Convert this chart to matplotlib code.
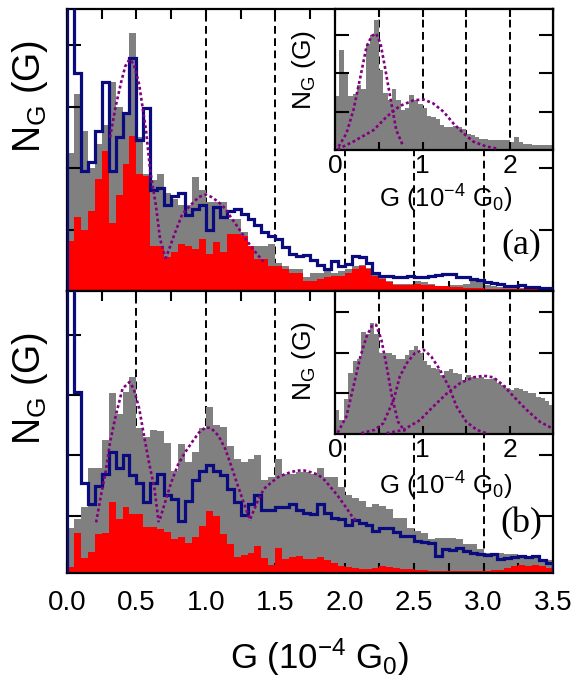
import numpy as np
import matplotlib
matplotlib.use("Agg")
import matplotlib.pyplot as plt
from matplotlib.ticker import MultipleLocator

plt.rcParams['font.family'] = ['Liberation Sans', 'DejaVu Sans']
plt.rcParams['mathtext.fontset'] = 'custom'
plt.rcParams['mathtext.rm'] = 'Liberation Sans'
plt.rcParams['mathtext.default'] = 'regular'

# histogram bins (10^-4 G0)
bin_w = 0.05
edges = np.arange(71) * bin_w
ins_edges = np.arange(51) * bin_w

# ---- panel (a) ----
gray_a = [2.24, 3.2, 2.6, 2.0, 2.4, 2.7, 3.4, 3.0, 2.9, 4.2,
          2.5, 1.9, 1.8, 1.9, 1.6, 1.5, 1.4, 1.4, 1.85, 1.65,
          1.45, 1.45, 1.45, 1.17, 1.17, 0.96, 0.74, 0.74, 0.74, 0.77,
          0.46, 0.4, 0.35, 0.35, 0.22, 0.3, 0.3, 0.32, 0.3, 0.32,
          0.35, 0.4, 0.42, 0.38, 0.28, 0.22, 0.16, 0.12, 0.12, 0.11,
          0.16, 0.15, 0.11, 0.08, 0.08, 0.1, 0.1, 0.12, 0.16, 0.16,
          0.1, 0.08, 0.06, 0.06, 0.05, 0.05, 0.05, 0.05, 0.05, 0.05]
red_a = [0.82, 1.2, 1.0, 1.3, 1.83, 2.28, 1.1, 1.56, 2.06, 2.52,
         1.9, 1.87, 0.74, 0.74, 0.55, 0.63, 0.77, 0.74, 0.68, 0.85,
         0.6, 0.8, 0.63, 0.93, 0.93, 0.9, 0.74, 0.52, 0.52, 0.41,
         0.41, 0.35, 0.3, 0.3, 0.16, 0.16, 0.2, 0.22, 0.25, 0.25,
         0.3, 0.36, 0.41, 0.35, 0.25, 0.2, 0.14, 0.1, 0.09, 0.1,
         0.11, 0.1, 0.09, 0.08, 0.08, 0.06, 0.06, 0.05, 0.05, 0.05,
         0.04, 0.04, 0.03, 0.03, 0.03, 0.03, 0.03, 0.03, 0.03, 0.03]
blue_a = [5.5, 3.55, 1.96, 2.1, 2.6, 3.4, 1.96, 2.5, 2.9, 3.8,
          2.46, 2.98, 1.65, 1.67, 1.4, 1.55, 1.6, 1.24, 1.34, 1.4,
          1.0, 1.37, 1.2, 1.3, 1.34, 1.25, 1.17, 1.07, 0.96, 0.9,
          0.85, 0.71, 0.6, 0.57, 0.58, 0.5, 0.42, 0.36, 0.49, 0.4,
          0.44, 0.57, 0.55, 0.45, 0.3, 0.25, 0.25, 0.22, 0.22, 0.25,
          0.22, 0.22, 0.24, 0.26, 0.27, 0.28, 0.22, 0.22, 0.19, 0.18,
          0.14, 0.13, 0.11, 0.08, 0.08, 0.1, 0.07, 0.06, 0.05, 0.05]
fit_a = [
    ([0.31, 0.35, 0.39, 0.42, 0.45, 0.48, 0.52, 0.57, 0.60, 0.64, 0.67, 0.71],
     [2.5, 3.0, 3.4, 3.66, 3.77, 3.7, 3.36, 2.6, 1.94, 1.4, 0.85, 0.52]),
    ([0.71, 0.77, 0.83, 0.90, 0.95, 1.0, 1.04, 1.09, 1.14, 1.18, 1.23, 1.28, 1.33, 1.38, 1.42],
     [0.52, 0.9, 1.25, 1.42, 1.53, 1.57, 1.53, 1.45, 1.34, 1.2, 1.04, 0.87, 0.71, 0.57, 0.46]),
]
ins_gray_a = [1.4, 2.6, 2.0, 1.4, 1.45, 1.7, 1.6, 2.78, 3.0, 3.39,
              2.1, 1.5, 1.3, 1.6, 1.3, 1.05, 1.1, 1.43, 1.3, 1.2,
              1.1, 0.9, 0.85, 0.8, 0.65, 0.6, 0.6, 0.63, 0.6, 0.55,
              0.43, 0.38, 0.35, 0.3, 0.3, 0.26, 0.26, 0.26, 0.25, 0.25,
              0.22, 0.35, 0.2, 0.17, 0.15, 0.13, 0.13, 0.12, 0.13, 0.12]
ins_fit_a = [
    ([0.04, 0.13, 0.21, 0.29, 0.36, 0.42, 0.47, 0.52, 0.57, 0.63, 0.70, 0.78],
     [0.09, 0.43, 1.04, 1.91, 2.7, 2.98, 3.04, 2.78, 2.17, 1.39, 0.52, 0.09]),
    ([0.03, 0.21, 0.44, 0.59, 0.74, 0.9, 1.01, 1.12, 1.24, 1.35, 1.47, 1.58, 1.73, 1.85],
     [0.02, 0.22, 0.52, 0.87, 1.15, 1.3, 1.32, 1.22, 1.0, 0.7, 0.43, 0.22, 0.09, 0.04]),
]

# ---- panel (b) ----
gray_b = [0.75, 0.9, 1.1, 1.75, 1.75, 2.2, 2.98, 2.64, 3.0, 3.25,
          2.4, 2.25, 2.37, 2.35, 2.15, 1.7, 2.14, 1.85, 2.0, 2.4,
          2.75, 2.45, 2.42, 2.1, 1.9, 1.84, 1.9, 1.95, 1.55, 1.6,
          1.9, 1.64, 1.65, 1.68, 1.68, 1.65, 1.75, 1.6, 1.59, 1.42,
          1.3, 1.25, 1.2, 1.1, 1.14, 1.12, 1.07, 0.92, 0.92, 0.75,
          0.7, 0.67, 0.56, 0.58, 0.58, 0.58, 0.56, 0.48, 0.48, 0.4,
          0.34, 0.34, 0.34, 0.31, 0.31, 0.27, 0.26, 0.25, 0.23, 0.22]
red_b = [0.1, 0.67, 0.25, 0.35, 0.64, 0.67, 1.17, 0.9, 1.1, 0.98,
         0.98, 0.76, 0.76, 0.73, 0.68, 0.56, 0.6, 0.5, 0.59, 0.78,
         1.03, 0.95, 0.64, 0.48, 0.26, 0.3, 0.33, 0.45, 0.25, 0.14,
         0.42, 0.23, 0.26, 0.28, 0.23, 0.24, 0.26, 0.22, 0.16, 0.12,
         0.1, 0.08, 0.07, 0.07, 0.09, 0.12, 0.1, 0.08, 0.07, 0.06,
         0.05, 0.05, 0.04, 0.04, 0.03, 0.03, 0.03, 0.03, 0.03, 0.04,
         0.04, 0.05, 0.05, 0.09, 0.12, 0.14, 0.12, 0.14, 0.12, 0.09]
blue_b = [5.0, 3.0, 1.5, 1.15, 1.45, 1.64, 2.0, 1.75, 1.95, 1.62,
          1.5, 1.17, 1.5, 1.64, 1.3, 1.23, 0.87, 1.2, 1.55, 1.7,
          1.8, 1.7, 1.62, 1.4, 1.17, 0.97, 1.15, 1.3, 1.05, 1.05,
          1.09, 1.1, 1.14, 1.05, 1.0, 0.98, 1.15, 1.0, 0.92, 0.9,
          0.8, 0.88, 0.83, 0.8, 0.7, 0.75, 0.75, 0.68, 0.62, 0.62,
          0.53, 0.52, 0.5, 0.28, 0.4, 0.38, 0.42, 0.36, 0.34, 0.31,
          0.3, 0.31, 0.23, 0.25, 0.27, 0.28, 0.26, 0.28, 0.22, 0.17]
fit_b = [
    ([0.21, 0.24, 0.28, 0.31, 0.35, 0.40, 0.45, 0.48, 0.52, 0.55, 0.59, 0.63, 0.66],
     [0.84, 1.23, 1.7, 2.17, 2.6, 3.06, 3.17, 3.06, 2.73, 2.34, 1.84, 1.4, 0.84]),
    ([0.67, 0.71, 0.75, 0.80, 0.85, 0.90, 0.95, 1.0, 1.04, 1.09, 1.14, 1.185, 1.23, 1.28, 1.32],
     [0.9, 1.2, 1.5, 1.8, 2.0, 2.17, 2.33, 2.42, 2.4, 2.28, 2.06, 1.76, 1.45, 1.12, 0.87]),
    ([1.32, 1.38, 1.42, 1.47, 1.52, 1.57, 1.62, 1.67, 1.71, 1.76, 1.81, 1.86, 1.9, 1.95, 2.0, 2.05, 2.08],
     [0.9, 1.23, 1.4, 1.5, 1.59, 1.64, 1.68, 1.7, 1.7, 1.67, 1.63, 1.53, 1.42, 1.28, 1.12, 0.95, 0.87]),
]
ins_gray_b = [0.6, 0.35, 0.85, 1.5, 1.8, 1.85, 2.5, 2.45, 2.72, 2.45,
              2.0, 2.0, 2.0, 1.95, 1.85, 1.85, 1.95, 2.05, 2.15, 2.0,
              1.8, 1.7, 1.63, 1.6, 1.45, 1.55, 1.6, 1.5, 1.48, 1.33,
              1.45, 1.4, 1.38, 1.4, 1.35, 1.35, 1.38, 1.25, 1.2, 1.12,
              1.08, 1.12, 1.1, 1.05, 1.0, 1.0, 0.92, 0.88, 0.8, 0.72]
ins_fit_b = [
    ([0.03, 0.13, 0.21, 0.29, 0.36, 0.42, 0.47, 0.53, 0.59, 0.65, 0.72, 0.80],
     [0.03, 0.43, 1.16, 1.9, 2.39, 2.65, 2.68, 2.31, 1.66, 0.92, 0.3, 0.06]),
    ([0.30, 0.45, 0.55, 0.67, 0.74, 0.82, 0.91, 1.01, 1.1, 1.2, 1.3, 1.39, 1.5, 1.62, 1.73],
     [0.02, 0.1, 0.26, 0.84, 1.41, 1.74, 1.98, 2.07, 1.9, 1.57, 1.16, 0.67, 0.3, 0.1, 0.02]),
    ([0.59, 0.78, 0.97, 1.12, 1.28, 1.43, 1.58, 1.7, 1.81, 1.92, 2.04, 2.19, 2.34, 2.48],
     [0.02, 0.1, 0.34, 0.67, 1.0, 1.25, 1.39, 1.43, 1.39, 1.2, 0.92, 0.59, 0.3, 0.14]),
]

GRAY = '#808080'
RED = '#ff0000'
BLUE = '#0b0b80'
PURPLE = '#800080'
DASH = (0, (4, 2.3))
DOT = (0, (1.1, 1.0))
ylab = 'N$_G$ (G)'
xlab = 'G (10$^{-4}$ G$_0$)'


def style_main(ax, ytop, yticks):
    ax.set_xlim(0, 3.5)
    ax.set_ylim(0, ytop)
    ax.xaxis.set_major_locator(MultipleLocator(0.5))
    ax.xaxis.set_minor_locator(MultipleLocator(0.25))
    ax.set_yticks(yticks)
    ax.tick_params(axis='x', which='both', direction='in', top=True,
                   length=7, width=1.5, labelsize=20, pad=12)
    ax.tick_params(axis='y', which='both', direction='in', right=True,
                   length=10, width=1.5, labelleft=False)
    for s in ax.spines.values():
        s.set_linewidth(1.6)


def style_inset(ax, ytop):
    ax.set_xlim(0, 2.49)
    ax.set_ylim(0, ytop)
    ax.xaxis.set_major_locator(MultipleLocator(1))
    ax.xaxis.set_minor_locator(MultipleLocator(0.5))
    ax.set_yticks([1, 2, 3])
    ax.tick_params(axis='x', which='both', direction='in', top=True,
                   length=6, width=1.5, labelsize=19, pad=3)
    ax.tick_params(axis='y', which='both', direction='in', right=True,
                   length=10, width=1.5, labelleft=False)
    for s in ax.spines.values():
        s.set_linewidth(1.6)


def draw_main(ax, gray, red, blue, fits, dashes):
    for x in dashes:
        ax.axvline(x, color='black', lw=1.4, ls=DASH, zorder=0.5)
    ax.stairs(gray, edges, fill=True, color=GRAY, zorder=1)
    ax.stairs(red, edges, fill=True, color=RED, zorder=2)
    ax.stairs(blue, edges, color=BLUE, lw=2.3, zorder=3)
    for fx, fy in fits:
        ax.plot(fx, fy, color=PURPLE, lw=1.9, ls=DOT, zorder=4)


def draw_inset(ax, gray, fits):
    for x in [0.5, 1.0, 1.5, 2.0]:
        ax.axvline(x, color='black', lw=1.4, ls=DASH, zorder=0.5)
    ax.stairs(gray, ins_edges, fill=True, color=GRAY, zorder=1)
    for fx, fy in fits:
        ax.plot(fx, fy, color=PURPLE, lw=1.9, ls=DOT, zorder=4)


fig = plt.figure(figsize=(5.81, 6.81), dpi=100)

ax_a = fig.add_axes([0.1153, 0.5727, 0.8365, 0.4141])
ax_b = fig.add_axes([0.1153, 0.1586, 0.8365, 0.4141], sharex=ax_a)
ins_a = fig.add_axes([0.5766, 0.7797, 0.3752, 0.2070], zorder=5)
ins_b = fig.add_axes([0.5766, 0.3627, 0.3752, 0.2100], zorder=5)

draw_main(ax_a, gray_a, red_a, blue_a, fit_a, [1.0, 1.5, 2.0, 2.5, 3.0])
draw_main(ax_b, gray_b, red_b, blue_b, fit_b, [0.5, 1.0, 1.5, 2.0, 2.5, 3.0])
style_main(ax_a, 4.59, [1, 2, 3, 4])
style_main(ax_b, 4.68, [0.95, 1.95, 2.95, 3.95])
ax_a.tick_params(axis='x', labelbottom=False)

draw_inset(ins_a, ins_gray_a, ins_fit_a)
draw_inset(ins_b, ins_gray_b, ins_fit_b)
style_inset(ins_a, 3.68)
style_inset(ins_b, 3.51)

for ax, yc in [(ax_a, 0.69), (ax_b, 0.655)]:
    ax.set_ylabel(ylab, fontsize=27)
    ax.yaxis.set_label_coords(-0.035, yc)
for ins, yc, xc in [(ins_a, 0.57, -0.23), (ins_b, 0.51, -0.25)]:
    ins.set_ylabel(ylab, fontsize=19)
    ins.yaxis.set_label_coords(-0.078, yc)
    ins.set_xlabel(xlab, fontsize=18.5)
    ins.xaxis.set_label_coords(0.505, xc)

ax_b.set_xlabel(xlab, fontsize=25)
ax_b.xaxis.set_label_coords(0.52, -0.225)

ax_a.text(0.934, 0.163, '(a)', transform=ax_a.transAxes, ha='center',
          va='center', fontsize=26, family=['Liberation Serif'])
ax_b.text(0.934, 0.174, '(b)', transform=ax_b.transAxes, ha='center',
          va='center', fontsize=26, family=['Liberation Serif'])

fig.savefig('out.png', dpi=100)
